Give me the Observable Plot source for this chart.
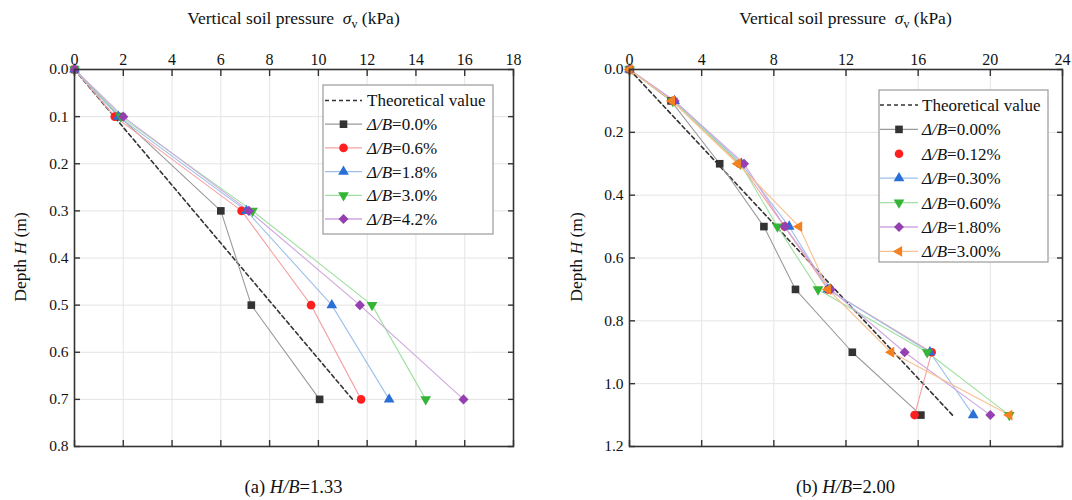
<!DOCTYPE html>
<html><head><meta charset="utf-8">
<script src="https://cdn.jsdelivr.net/npm/d3@7"></script>
<script src="https://cdn.jsdelivr.net/npm/@observablehq/plot@0.6"></script>
<style>
body{margin:0;background:#fff;width:1072px;height:500px;overflow:hidden;}
#wrap{display:flex;width:1072px;height:500px;}
svg text, svg tspan{font-family:'Liberation Serif','DejaVu Serif',serif !important;}
</style></head><body><div id="wrap"></div>
<script>
// ---------- Panel (a) H/B = 1.33 ----------
const leftDepth = [0, 0.1, 0.3, 0.5, 0.7];
const leftTheoryDepth = [0, 0.7];
const leftTheoryValue = [0, 11.4];
const leftLabels = ["0.0%", "0.6%", "1.8%", "3.0%", "4.2%"];
const left_0_0 = [0, 1.85, 6.0, 7.25, 10.05];
const left_0_6 = [0, 1.65, 6.85, 9.7, 11.75];
const left_1_8 = [0, 1.8, 7.05, 10.55, 12.9];
const left_3_0 = [0, 1.9, 7.3, 12.2, 14.4];
const left_4_2 = [0, 2.0, 7.15, 11.7, 15.95];
const leftXTicks = [0, 2, 4, 6, 8, 10, 12, 14, 16, 18];
const leftYTicks = [0, 0.1, 0.2, 0.3, 0.4, 0.5, 0.6, 0.7, 0.8];

// ---------- Panel (b) H/B = 2.00 ----------
const rightDepth = [0, 0.1, 0.3, 0.5, 0.7, 0.9, 1.1];
const rightTheoryDepth = [0, 1.1];
const rightTheoryValue = [0, 17.9];
const rightLabels = ["0.00%", "0.12%", "0.30%", "0.60%", "1.80%", "3.00%"];
const right_0_00 = [0, 2.3, 5.0, 7.45, 9.2, 12.35, 16.15];
const right_0_12 = [0, 2.4, 6.1, 8.6, 11.0, 16.75, 15.8];
const right_0_30 = [0, 2.5, 6.2, 8.85, 11.0, 16.65, 19.05];
const right_0_60 = [0, 2.4, 6.15, 8.2, 10.45, 16.5, 21.05];
const right_1_80 = [0, 2.5, 6.35, 8.6, 11.15, 15.25, 20.0];
const right_3_00 = [0, 2.35, 6.0, 9.4, 11.0, 14.5, 21.05];
const rightXTicks = [0, 4, 8, 12, 16, 20, 24];
const rightYTicks = [0, 0.2, 0.4, 0.6, 0.8, 1.0, 1.2];

// styles per series (marker colour, line colour, symbol)
const styles = [
  {fill: "#333333", line: "#9a9a9a", symbol: "square", rotate: 0, r: 4.3},
  {fill: "#ff1f1f", line: "#f5a3a3", symbol: "circle", rotate: 0, r: 4.3},
  {fill: "#2a6fd6", line: "#9dc0ea", symbol: "triangle", rotate: 0, r: 4.0},
  {fill: "#35b535", line: "#9fe09f", symbol: "triangle", rotate: 180, r: 4.0},
  {fill: "#9440b0", line: "#cfa6e0", symbol: "square", rotate: 45, r: 4.0},
  {fill: "#f5801f", line: "#f8c090", symbol: "triangle", rotate: -90, r: 4.0}
];

const SERIF = "'Liberation Serif', 'DejaVu Serif', serif";

function rows(depth, vals) { return depth.map((d, i) => ({x: vals[i], y: d})); }

function panel(cfg) {
  const marks = [
    Plot.gridX(cfg.xTicks, {stroke: "#e4e4e4", strokeOpacity: 1}),
    Plot.gridY(cfg.yTicks, {stroke: "#e4e4e4", strokeOpacity: 1}),
    Plot.line(rows(cfg.theoryDepth, cfg.theoryValue), {x: "x", y: "y", stroke: "#333", strokeWidth: 1.6, strokeDasharray: "4,3"})
  ];
  cfg.series.forEach((vals, k) => {
    marks.push(Plot.line(rows(cfg.depth, vals), {x: "x", y: "y", stroke: styles[k].line, strokeWidth: 1.1}));
  });
  cfg.series.forEach((vals, k) => {
    const s = styles[k];
    marks.push(Plot.dot(rows(cfg.depth, vals), {x: "x", y: "y", fill: s.fill, stroke: "none", symbol: s.symbol, rotate: s.rotate, r: s.r}));
  });
  marks.push(
    Plot.frame({stroke: "#333", strokeWidth: 1.6}),
    Plot.axisX(cfg.xTicks, {anchor: "top", tickSize: -6, tickPadding: 11, label: null, stroke: "#333", strokeWidth: 1.4, fontSize: 16, fill: "#111"}),
    Plot.axisX(cfg.xTicks, {anchor: "bottom", tickSize: -6, tickFormat: () => "", label: null, stroke: "#333", strokeWidth: 1.4}),
    Plot.axisY(cfg.yTicks, {anchor: "left", tickSize: -6, tickPadding: 12, tickFormat: d3.format(".1f"), label: null, stroke: "#333", strokeWidth: 1.4, fontSize: 15.5, fill: "#111"}),
    Plot.axisY(cfg.yTicks, {anchor: "right", tickSize: -6, tickFormat: () => "", label: null, stroke: "#333", strokeWidth: 1.4})
  );
  const svg = Plot.plot({
    width: 536, height: 500,
    marginTop: 69, marginBottom: 54, marginLeft: cfg.marginLeft, marginRight: cfg.marginRight,
    x: {domain: cfg.xDomain},
    y: {domain: cfg.yDomain, reverse: true},
    style: {fontFamily: SERIF, fontSize: "15px", background: "white", overflow: "visible"},
    marks
  });
  const g = d3.select(svg);
  g.attr("font-family", SERIF);
  const cx = cfg.marginLeft + (536 - cfg.marginLeft - cfg.marginRight) / 2;
  // top axis title
  const t = g.append("text").attr("x", cx).attr("y", 24).attr("text-anchor", "middle")
    .attr("font-size", 17.5).attr("fill", "#111");
  t.append("tspan").text("Vertical soil pressure  ");
  t.append("tspan").attr("font-style", "italic").text("σ");
  t.append("tspan").attr("font-size", 12).attr("dy", 4).text("v");
  t.append("tspan").attr("dy", -4).text(" (kPa)");
  // y axis title
  const yl = g.append("text").attr("transform", `translate(${cfg.yLabelX},257) rotate(-90)`)
    .attr("text-anchor", "middle").attr("font-size", 17.5).attr("fill", "#111").attr("dy", "0.35em");
  yl.append("tspan").text("Depth ");
  yl.append("tspan").attr("font-style", "italic").text("H");
  yl.append("tspan").text(" (m)");
  // caption
  const c = g.append("text").attr("x", cx).attr("y", 493).attr("text-anchor", "middle")
    .attr("font-size", 18.5).attr("fill", "#111");
  c.append("tspan").text(cfg.captionPrefix + " ");
  c.append("tspan").attr("font-style", "italic").text("H/B");
  c.append("tspan").text("=" + cfg.captionValue);
  // legend
  const L = cfg.legend;
  const n = cfg.labels.length + 1;
  g.append("rect").attr("x", L.x).attr("y", L.y).attr("width", L.w).attr("height", L.h)
    .attr("fill", "white").attr("stroke", "#999").attr("stroke-width", 1.2);
  for (let i = 0; i < n; i++) {
    const yy = L.y + L.first + i * L.step;
    if (i === 0) {
      g.append("line").attr("x1", L.lx1).attr("x2", L.lx2).attr("y1", yy).attr("y2", yy)
        .attr("stroke", "#333").attr("stroke-width", 1.6).attr("stroke-dasharray", "4,3");
      g.append("text").attr("x", L.tx).attr("y", yy).attr("dy", "0.35em").attr("text-anchor", "start")
        .attr("font-size", 17).attr("fill", "#111").text("Theoretical value");
    } else {
      const s = styles[i - 1];
      if (!(cfg.noLine || []).includes(i - 1)) {
        g.append("line").attr("x1", L.lx1).attr("x2", L.lx2).attr("y1", yy).attr("y2", yy)
          .attr("stroke", s.line).attr("stroke-width", 1.3);
      }
      const mx = (L.lx1 + L.lx2) / 2;
      const sym = {square: d3.symbolSquare, circle: d3.symbolCircle, triangle: d3.symbolTriangle}[s.symbol];
      g.append("path").attr("d", d3.symbol(sym, Math.PI * s.r * s.r)())
        .attr("transform", `translate(${mx},${yy}) rotate(${s.rotate})`).attr("fill", s.fill);
      const tx = g.append("text").attr("x", L.tx).attr("y", yy).attr("dy", "0.35em").attr("text-anchor", "start")
        .attr("font-size", 17).attr("fill", "#111");
      tx.append("tspan").attr("font-style", "italic").text("Δ/B");
      tx.append("tspan").text("=" + cfg.labels[i - 1]);
    }
  }
  return svg;
}

const wrap = document.getElementById("wrap");
wrap.appendChild(panel({
  depth: leftDepth, theoryDepth: leftTheoryDepth, theoryValue: leftTheoryValue,
  series: [left_0_0, left_0_6, left_1_8, left_3_0, left_4_2], labels: leftLabels,
  xTicks: leftXTicks, yTicks: leftYTicks, xDomain: [0, 18], yDomain: [0, 0.8],
  marginLeft: 74, marginRight: 23, yLabelX: 20,
  captionPrefix: "(a)", captionValue: "1.33",
  legend: {x: 323, y: 85, w: 170, h: 149, first: 15.5, step: 23.7, lx1: 325, lx2: 362, tx: 367}
}));
wrap.appendChild(panel({
  depth: rightDepth, theoryDepth: rightTheoryDepth, theoryValue: rightTheoryValue,
  series: [right_0_00, right_0_12, right_0_30, right_0_60, right_1_80, right_3_00], labels: rightLabels,
  xTicks: rightXTicks, yTicks: rightYTicks, xDomain: [0, 24], yDomain: [0, 1.2],
  marginLeft: 93, marginRight: 10, yLabelX: 40,
  captionPrefix: "(b)", captionValue: "2.00", noLine: [1],
  legend: {x: 343, y: 90, w: 169, h: 172, first: 15, step: 24.4, lx1: 344, lx2: 382, tx: 386}
}));
</script></body></html>
